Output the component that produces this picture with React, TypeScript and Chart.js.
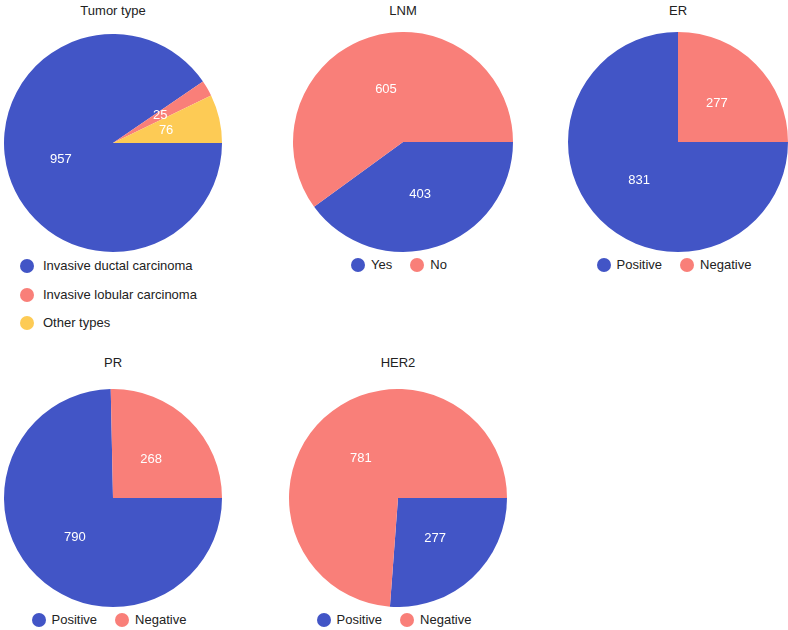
import { useEffect, useRef } from "react"
import { Chart, registerables } from "chart.js"

Chart.register(...registerables)

const FONT = "'Liberation Sans', Arial, Helvetica, sans-serif"
const BLUE = "#4255c6"
const PINK = "#f97f79"
const YELLOW = "#fdcb55"

// data
const tumorLabels = ["Invasive ductal carcinoma", "Invasive lobular carcinoma", "Other types"]
const tumorValues = [957, 25, 76]
const lnmLabels = ["Yes", "No"]
const lnmValues = [403, 605]
const posNegLabels = ["Positive", "Negative"]
const erValues = [831, 277]
const prValues = [790, 268]
const her2Values = [277, 781]

// white numbers in the middle of each slice
const valueLabels = {
  id: "valueLabels",
  afterDatasetsDraw(chart: any) {
    const { ctx } = chart
    const meta = chart.getDatasetMeta(0)
    const values = chart.data.datasets[0].data
    ctx.save()
    ctx.fillStyle = "#ffffff"
    ctx.font = `13px ${FONT}`
    ctx.textAlign = "center"
    ctx.textBaseline = "middle"
    meta.data.forEach((arc: any, i: number) => {
      const { x, y } = arc.tooltipPosition()
      ctx.fillText(String(values[i]), x, y)
    })
    ctx.restore()
  },
}

type PieProps = {
  title: string
  labels: string[]
  values: number[]
  colors: string[]
  cx: number
  cy: number
  r: number
  titleY: number
  legendY: number
  vertical?: boolean
}

function PieBox({ title, labels, values, colors, cx, cy, r, titleY, legendY, vertical }: PieProps) {
  const chartRef = useRef<HTMLCanvasElement>(null)
  const chartInstance = useRef<Chart | null>(null)

  useEffect(() => {
    if (!chartRef.current) return
    if (chartInstance.current) chartInstance.current.destroy()

    chartInstance.current = new Chart(chartRef.current, {
      type: "pie",
      data: {
        labels,
        datasets: [
          {
            data: values,
            backgroundColor: colors,
            borderWidth: 0,
            hoverOffset: 0,
          },
        ],
      },
      options: {
        responsive: false,
        animation: false,
        rotation: 90,
        events: [],
        layout: { padding: 0 },
        plugins: {
          legend: { display: false },
          tooltip: { enabled: false },
          title: { display: false },
        },
      },
      plugins: [valueLabels],
    })

    return () => {
      if (chartInstance.current) {
        chartInstance.current.destroy()
        chartInstance.current = null
      }
    }
  }, [])

  const size = Math.round(r * 2)

  return (
    <>
      <div
        style={{
          position: "absolute",
          left: cx - 150,
          width: 300,
          top: titleY - 8,
          lineHeight: "16px",
          fontSize: 13,
          textAlign: "center",
          color: "#222",
        }}
      >
        {title}
      </div>
      <canvas
        ref={chartRef}
        width={size}
        height={size}
        style={{ position: "absolute", left: cx - r, top: cy - r, width: size, height: size }}
      />
      {vertical ? (
        <div style={{ position: "absolute", left: 20, top: legendY - 8 }}>
          {labels.map((l, i) => (
            <div
              key={l}
              style={{ display: "flex", alignItems: "center", height: 16, marginBottom: 12.5 }}
            >
              <span
                style={{
                  width: 14,
                  height: 14,
                  borderRadius: 7,
                  background: colors[i],
                  marginRight: 9,
                  flex: "none",
                }}
              />
              <span style={{ fontSize: 13, lineHeight: "16px", color: "#222" }}>{l}</span>
            </div>
          ))}
        </div>
      ) : (
        <div
          style={{
            position: "absolute",
            left: cx - 4 - 150,
            width: 300,
            top: legendY - 8,
            display: "flex",
            justifyContent: "center",
            gap: 18,
          }}
        >
          {labels.map((l, i) => (
            <div key={l} style={{ display: "flex", alignItems: "center", height: 16 }}>
              <span
                style={{
                  width: 14,
                  height: 14,
                  borderRadius: 7,
                  background: colors[i],
                  marginRight: 6,
                  flex: "none",
                }}
              />
              <span style={{ fontSize: 13, lineHeight: "16px", color: "#222" }}>{l}</span>
            </div>
          ))}
        </div>
      )}
    </>
  )
}

export default function App() {
  return (
    <div
      style={{
        position: "absolute",
        left: 0,
        top: 0,
        width: 788,
        height: 630,
        overflow: "hidden",
        background: "#fff",
        fontFamily: FONT,
      }}
    >
      <PieBox
        title="Tumor type"
        labels={tumorLabels}
        values={tumorValues}
        colors={[BLUE, PINK, YELLOW]}
        cx={113}
        cy={143}
        r={109}
        titleY={11}
        legendY={266}
        vertical
      />
      <PieBox
        title="LNM"
        labels={lnmLabels}
        values={lnmValues}
        colors={[BLUE, PINK]}
        cx={403}
        cy={142}
        r={110}
        titleY={11}
        legendY={265}
      />
      <PieBox
        title="ER"
        labels={posNegLabels}
        values={erValues}
        colors={[BLUE, PINK]}
        cx={678}
        cy={142}
        r={110}
        titleY={11}
        legendY={265}
      />
      <PieBox
        title="PR"
        labels={posNegLabels}
        values={prValues}
        colors={[BLUE, PINK]}
        cx={113}
        cy={498}
        r={109}
        titleY={363}
        legendY={620}
      />
      <PieBox
        title="HER2"
        labels={posNegLabels}
        values={her2Values}
        colors={[BLUE, PINK]}
        cx={398}
        cy={498}
        r={109}
        titleY={363}
        legendY={620}
      />
    </div>
  )
}
